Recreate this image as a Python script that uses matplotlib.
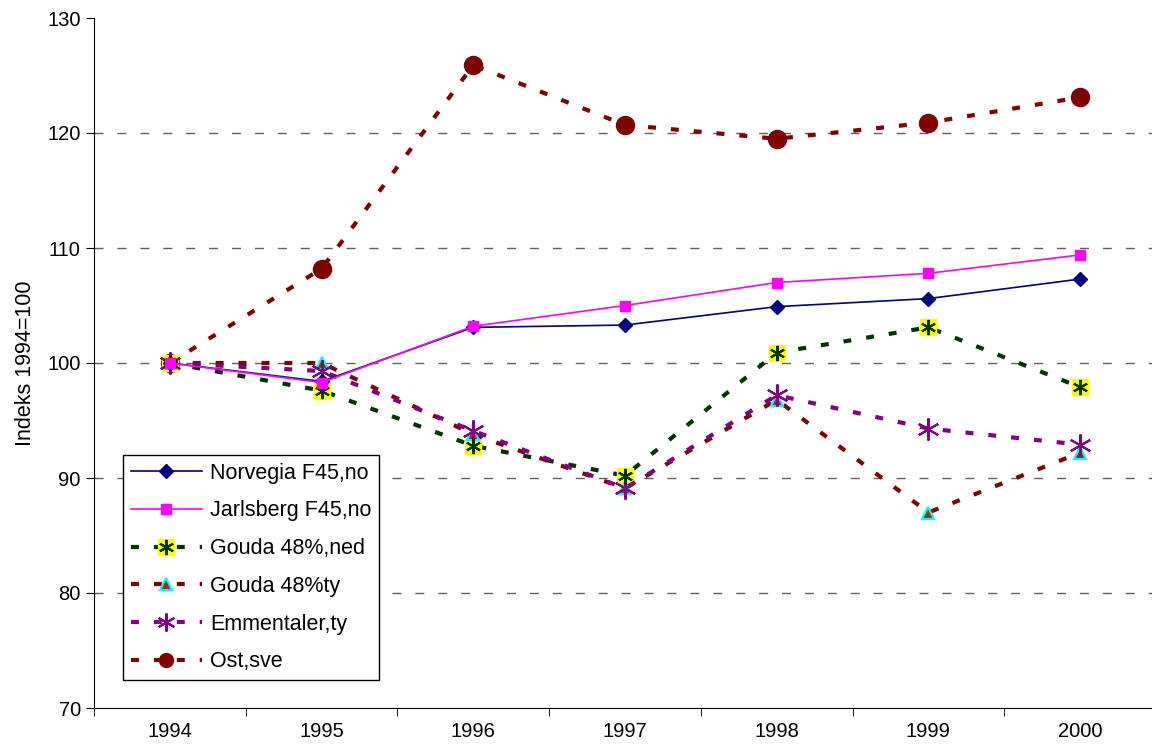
import matplotlib
matplotlib.use("Agg")
import matplotlib.pyplot as plt
from matplotlib.lines import Line2D

years = ["1994", "1995", "1996", "1997", "1998", "1999", "2000"]
norvegia = [100, 98.4, 103.1, 103.3, 104.9, 105.6, 107.3]
jarlsberg = [100, 98.3, 103.2, 105.0, 107.0, 107.8, 109.4]
gouda_ned = [100, 97.6, 92.8, 90.2, 100.9, 103.1, 97.9]
gouda_ty = [100, 100.0, 93.8, 89.1, 96.8, 87.0, 92.2]
emmentaler = [100, 99.3, 94.1, 89.1, 97.2, 94.3, 92.9]
ost_sve = [100, 108.2, 125.9, 120.7, 119.5, 120.9, 123.1]

plt.rcParams['font.family'] = ['Liberation Sans', 'DejaVu Sans']

fig = plt.figure(figsize=(11.52, 7.56), dpi=100)
ax = fig.add_axes([94/1152, 48/756, 1062/1152, 690/756])
x = list(range(len(years)))

dash = (0, (1.9, 3.6))
lw_d = 3.0

# Ost,sve
ax.plot(x, ost_sve, color='#800000', lw=lw_d, ls=dash, marker='o', ms=13,
        mfc='#800000', mec='#800000', zorder=3)
# Gouda ned
ax.plot(x, gouda_ned, color='#003300', lw=lw_d, ls=dash, marker='s', ms=12,
        mfc='#ffff00', mec='#ffff00', zorder=3)
ax.plot(x, gouda_ned, ls='none', marker=(6, 2, 0), ms=11, mec='#003300',
        mew=1.5, zorder=4)
# Gouda ty
ax.plot(x, gouda_ty, color='#800000', lw=lw_d, ls=dash, marker='^', ms=9,
        mfc='#993300', mec='#00ffff', mew=1.5, zorder=3)
# Emmentaler
ax.plot(x, emmentaler, color='#800080', lw=lw_d, ls=dash, marker=(6, 2, 0),
        ms=16, mec='#800080', mew=1.5, zorder=3)
# Norvegia / Jarlsberg
ax.plot(x, norvegia, color='#000080', lw=1.2, marker='D', ms=7,
        mfc='#000080', mec='#000080', zorder=5)
ax.plot(x, jarlsberg, color='#ff00ff', lw=1.2, marker='s', ms=7,
        mfc='#ff00ff', mec='#ff00ff', zorder=5)

ax.set_xlim(-0.5, len(years) - 0.5)
ax.set_ylim(70, 130)
ax.set_yticks(range(70, 131, 10))
ax.set_xticks(x)
ax.set_xticklabels(years, fontsize=14.5)
ax.tick_params(axis='x', length=0, pad=10)
ax.set_xticks([i - 0.5 for i in range(len(years) + 1)], minor=True)
ax.tick_params(axis='x', which='minor', length=6, direction='out', color='black')
ax.tick_params(axis='y', labelsize=14.5, length=6, direction='out')
for v in range(80, 121, 10):
    ax.axhline(v, color='#606060', lw=1.0, ls=(0, (6.5, 10)), zorder=1)
ax.spines['top'].set_visible(False)
ax.spines['right'].set_visible(False)
ax.set_ylabel('Indeks 1994=100', fontsize=15.5, labelpad=8)

h1 = Line2D([], [], color='#000080', lw=1.2, marker='D', ms=7, mfc='#000080', mec='#000080')
h2 = Line2D([], [], color='#ff00ff', lw=1.2, marker='s', ms=7, mfc='#ff00ff', mec='#ff00ff')
h3a = Line2D([], [], color='#003300', lw=lw_d, ls=dash, marker='s', ms=12, mfc='#ffff00', mec='#ffff00')
h3b = Line2D([], [], ls='none', marker=(6, 2, 0), ms=11, mec='#003300', mew=1.5)
h4 = Line2D([], [], color='#800000', lw=lw_d, ls=dash, marker='^', ms=9, mfc='#993300', mec='#00ffff', mew=1.5)
h5 = Line2D([], [], color='#800080', lw=lw_d, ls=dash, marker=(6, 2, 0), ms=13, mec='#800080', mew=1.5)
h6 = Line2D([], [], color='#800000', lw=lw_d, ls=dash, marker='o', ms=10, mfc='#800000', mec='#800000')
leg = ax.legend([h1, h2, (h3a, h3b), h4, h5, h6],
                ['Norvegia F45,no', 'Jarlsberg F45,no', 'Gouda 48%,ned', 'Gouda 48%ty',
                 'Emmentaler,ty', 'Ost,sve'],
                loc='lower left', bbox_to_anchor=(29/1062, 28/690), fontsize=15.5,
                frameon=True, fancybox=False, edgecolor='black', framealpha=1,
                handlelength=3.3, labelspacing=0.78, borderpad=0.35,
                borderaxespad=0, handletextpad=0.4)
leg.get_frame().set_linewidth(1.0)

fig.savefig('out.png', dpi=100)
